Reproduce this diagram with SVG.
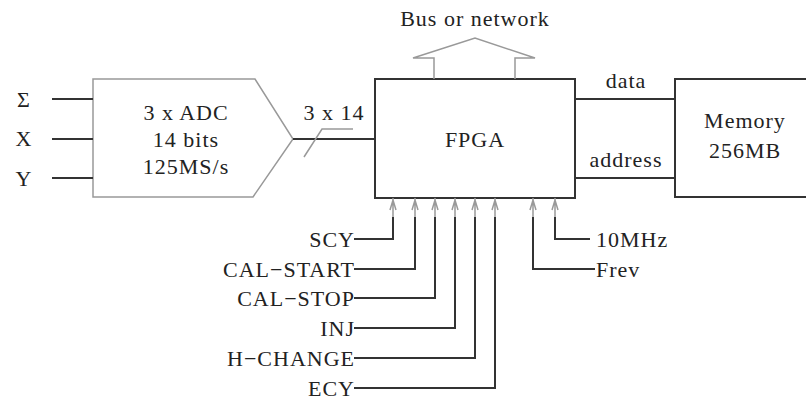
<svg xmlns="http://www.w3.org/2000/svg" width="806" height="401" viewBox="0 0 806 401">
<style>
text{font-family:"Liberation Serif","Times New Roman",serif;font-size:22px;letter-spacing:1px;fill:#222}
.m{text-anchor:middle}.e{text-anchor:end}
.k{stroke:#333;stroke-width:2;fill:none}
.g{stroke:#999;stroke-width:1.5;fill:none}
</style>
<rect width="806" height="401" fill="#fff"/>
<g id="adc">
<path class="g" d="M93,79 H255 L293,139 L253,197 H93 Z"/>
<text class="m" x="186" y="120">3 x ADC</text>
<text class="m" x="186" y="147">14 bits</text>
<text class="m" x="186" y="174">125MS/s</text>
</g>
<g id="fpga">
<rect class="k" x="375" y="79" width="200" height="119"/>
<text class="m" x="475" y="147">FPGA</text>
</g>
<g id="memory">
<rect class="k" x="675" y="79" width="140" height="118"/>
<text class="m" x="745" y="128">Memory</text>
<text class="m" x="745" y="158">256MB</text>
</g>
<g id="bus">
<path class="g" d="M434,79 V58 H413 L475,38 L535,58 H515 V79"/>
<text class="m" x="475" y="26">Bus or network</text>
</g>
<g id="inputs">
<text class="m" x="24" y="107">Σ</text>
<text class="m" x="24" y="146">X</text>
<text class="m" x="24" y="186">Y</text>
</g>
<g id="connectors">
<path class="k" d="M52,99 H93 M52,139 H93 M52,178 H93"/>
<path class="k" d="M293,139 H375"/>
<path class="g" d="M304,157 L322,129 H353"/>
<text class="m" x="334" y="120">3 x 14</text>
<path class="k" d="M575,99 H675 M575,178 H675"/>
<text class="m" x="626" y="88">data</text>
<text class="m" x="626" y="167">address</text>
<g class="g">
<path d="M393,198 V217 M390,210 L393,200 L396,210"/>
<path d="M415,198 V217 M412,210 L415,200 L418,210"/>
<path d="M435,198 V217 M432,210 L435,200 L438,210"/>
<path d="M455,198 V217 M452,210 L455,200 L458,210"/>
<path d="M475,198 V217 M472,210 L475,200 L478,210"/>
<path d="M495,198 V217 M492,210 L495,200 L498,210"/>
<path d="M533,198 V217 M530,210 L533,200 L536,210"/>
<path d="M555,198 V217 M552,210 L555,200 L558,210"/>
</g>
<path class="k" d="M393,217 V239 H354 M415,217 V269 H354 M435,217 V298 H354 M455,217 V328 H354 M475,217 V358 H354 M495,217 V388 H354"/>
<path class="k" d="M555,217 V239 H590 M533,217 V269 H595"/>
<text class="e" x="355" y="247">SCY</text>
<text class="e" x="355" y="277">CAL−START</text>
<text class="e" x="355" y="306">CAL−STOP</text>
<text class="e" x="355" y="336">INJ</text>
<text class="e" x="355" y="366">H−CHANGE</text>
<text class="e" x="355" y="396">ECY</text>
<text x="596" y="247">10MHz</text>
<text x="596" y="277">Frev</text>
</g>
</svg>
